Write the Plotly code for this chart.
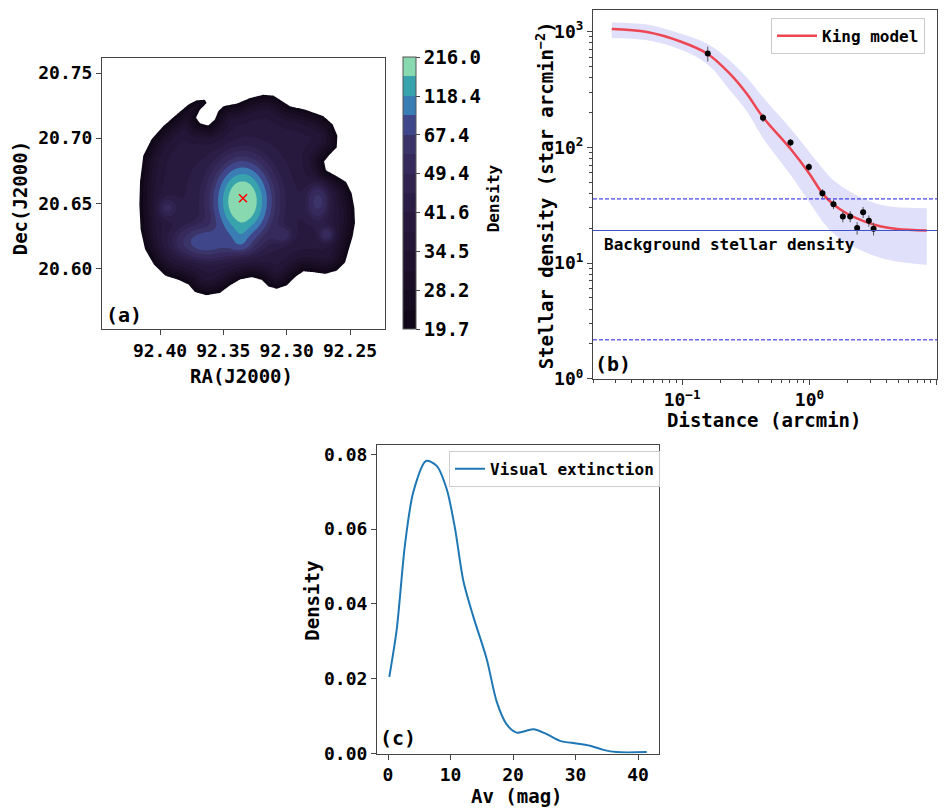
import numpy as np
import plotly.graph_objects as go

W, H = 951, 808
FONT = "DejaVu Sans Mono"

# ---------------- Panel (a): stellar density map ----------------
footprint_ra = [92.4158, 92.4132, 92.4066, 92.3974, 92.3868, 92.3776, 92.3711, 92.3645, 92.3632, 92.3684,
                92.3716, 92.3684, 92.3618, 92.3566, 92.3540, 92.3500, 92.3395, 92.3290, 92.3184, 92.3105,
                92.3053, 92.2974, 92.2842, 92.2711, 92.2637, 92.2600, 92.2605, 92.2663, 92.2705, 92.2690,
                92.2605, 92.2532, 92.2487, 92.2466, 92.2461, 92.2479, 92.2513, 92.2539, 92.2605, 92.2697,
                92.2790, 92.2868, 92.2934, 92.3000, 92.3079, 92.3145, 92.3197, 92.3276, 92.3368, 92.3447,
                92.3526, 92.3632, 92.3724, 92.3776, 92.3855, 92.3960, 92.4047, 92.4118, 92.4153, 92.4163]
footprint_dec = [20.6664, 20.6866, 20.6992, 20.7093, 20.7182, 20.7258, 20.7290, 20.7295, 20.7270, 20.7220,
                 20.7157, 20.7114, 20.7098, 20.7144, 20.7207, 20.7245, 20.7265, 20.7308, 20.7333, 20.7326,
                 20.7295, 20.7245, 20.7215, 20.7169, 20.7106, 20.7018, 20.6929, 20.6871, 20.6821, 20.6753,
                 20.6707, 20.6664, 20.6576, 20.6462, 20.6348, 20.6247, 20.6134, 20.6045, 20.5982, 20.5957,
                 20.5970, 20.5977, 20.5932, 20.5869, 20.5843, 20.5861, 20.5912, 20.5932, 20.5914, 20.5869,
                 20.5811, 20.5793, 20.5818, 20.5876, 20.5912, 20.5944, 20.6028, 20.6146, 20.6298, 20.6487]

blob_ra = [92.3349, 92.3361, 92.3368, 92.3645, 92.3349, 92.2753, 92.2682, 92.3037, 92.3945]
blob_dec = [20.6515, 20.6265, 20.6174, 20.6201, 20.6515, 20.6515, 20.6258, 20.6258, 20.6462]
blob_amp = [186.0, 22.0, 15.0, 37.0, 12.0, 22.0, 17.0, 14.0, 12.0]
blob_sig_ra = [0.0110, 0.0040, 0.0070, 0.0140, 0.0240, 0.0055, 0.0040, 0.0050, 0.0055]
blob_sig_dec = [0.0150, 0.0060, 0.0040, 0.0076, 0.0250, 0.0090, 0.0040, 0.0040, 0.0055]
edge_rise = 20.0
edge_scale = 0.012

density_levels = [19.7, 24.0, 28.2, 31.3, 34.5, 38.0, 41.6, 45.4, 49.4, 57.5, 67.4, 88.0, 118.4, 160.0, 216.0]
cbar_labels = ["19.7", "28.2", "34.5", "41.6", "49.4", "67.4", "118.4", "216.0"]
band_colors = ["#100818", "#150c20", "#1a0f27", "#1e122e", "#221536", "#27193e", "#2b1e46",
               "#30234f", "#362a5c", "#3b3469", "#40468a", "#3a7db4", "#38a3ac", "#88d8b0"]
center_ra = [92.3345]
center_dec = [20.6538]

ra_ticks = [92.40, 92.35, 92.30, 92.25]
dec_ticks = [20.60, 20.65, 20.70, 20.75]

# ---------------- Panel (b): radial density profile ----------------
prof_r = [0.159, 0.432, 0.71, 0.99, 1.265, 1.545, 1.83, 2.09, 2.37, 2.64, 2.93, 3.19]
prof_f = [646, 180, 110, 67.6, 40.0, 32.2, 25.3, 25.3, 20.1, 27.5, 23.2, 19.8]
prof_err = [95, 15, 8, 5, 3.5, 3.0, 2.8, 2.8, 2.5, 3.0, 2.6, 2.5]

king_r = [0.028, 0.053, 0.097, 0.159, 0.238, 0.322, 0.432, 0.71, 0.99, 1.265, 1.545, 1.97, 2.66, 3.59, 4.86, 8.36]
king_f = [1050, 990, 820, 640, 430, 290, 182, 97, 60, 40, 32, 26.8, 23.0, 20.8, 19.7, 19.1]
king_hi = [1200, 1150, 960, 780, 560, 400, 270, 145, 92, 66, 52, 43, 36, 32, 30.3, 29.8]
king_lo = [880, 840, 700, 520, 310, 205, 120, 58, 34, 23, 18, 14.8, 12.6, 11.1, 10.3, 9.6]

bg_density = 19.1
bg_upper = 35.8
bg_lower = 2.17

# ---------------- Panel (c): Av distribution ----------------
av_x = [0.21, 1.39, 2.72, 4.05, 6.08, 7.79, 9.39, 10.72, 12.05, 13.65, 15.79, 17.39, 18.99,
        20.59, 23.25, 25.39, 27.52, 30.19, 32.32, 34.45, 36.59, 41.39]
av_y = [0.0205, 0.0331, 0.0559, 0.0699, 0.0782, 0.0769, 0.0707, 0.0602, 0.0462, 0.0366, 0.0253,
        0.0139, 0.0078, 0.0056, 0.0065, 0.0052, 0.0034, 0.0027, 0.0021, 0.0010, 0.0004, 0.0004]

# ---------------- build density field for (a) ----------------
ra_g = np.linspace(92.222, 92.446, 280)
dec_g = np.linspace(20.553, 20.762, 270)
RA, DEC = np.meshgrid(ra_g, dec_g)
cosd = np.cos(np.deg2rad(20.65))
P0 = (RA * cosd).ravel()
P1 = DEC.ravel()
vx = np.array(footprint_ra) * cosd
vy = np.array(footprint_dec)
bx = np.roll(vx, -1)
by = np.roll(vy, -1)
dmin = np.full(P0.shape, np.inf)
inside = np.zeros(P0.shape, bool)
for i in range(len(vx)):
    ex, ey = bx[i] - vx[i], by[i] - vy[i]
    wx, wy = P0 - vx[i], P1 - vy[i]
    t = np.clip((wx * ex + wy * ey) / (ex * ex + ey * ey), 0, 1)
    dmin = np.minimum(dmin, np.hypot(wx - t * ex, wy - t * ey))
    cond = (vy[i] > P1) != (by[i] > P1)
    xint = vx[i] + (P1 - vy[i]) * ex / (ey if ey != 0 else 1e-12)
    inside ^= cond & (P0 < xint)
sd = np.where(inside, dmin, -dmin).reshape(RA.shape)

z = density_levels[0] + edge_rise * np.tanh(sd / edge_scale)
mask = np.clip(sd / 0.006, 0, 1)
blobs = np.zeros_like(z)
for a, b, amp, sa, sb in zip(blob_ra, blob_dec, blob_amp, blob_sig_ra, blob_sig_dec):
    blobs += amp * np.exp(-0.5 * ((RA - a) / sa) ** 2 - 0.5 * ((DEC - b) / sb) ** 2)
z = z + mask * blobs

lv = np.array(density_levels)
nb = len(lv) - 1
zi = np.interp(z, lv, np.arange(len(lv)))
below = z < lv[0]
zi[below] = (z[below] - lv[0]) / (lv[1] - lv[0])

contour_scale = [[0.0, "#ffffff"]] + [[(k + 1) / nb, band_colors[k]] for k in range(nb)]
cb_scale = []
for k in range(nb):
    cb_scale.append([k / nb, band_colors[k]])
    cb_scale.append([(k + 1) / nb, band_colors[k]])

tickfont = dict(family=FONT, size=18, color="black", weight="bold")
axline = dict(showline=True, mirror=True, linecolor="#444", linewidth=1, ticks="outside",
              ticklen=5, tickwidth=1, tickcolor="#444", showgrid=False, zeroline=False,
              tickfont=tickfont)

fig = go.Figure()

fig.add_trace(go.Contour(
    x=ra_g, y=dec_g, z=zi, autocontour=False,
    contours=dict(start=0, end=nb - 1, size=1, coloring="fill", showlines=False),
    colorscale=contour_scale, showscale=False, line=dict(width=0),
    hoverinfo="skip", xaxis="x", yaxis="y"))

fig.add_trace(go.Scatter(
    x=[None], y=[None], mode="markers", showlegend=False, hoverinfo="skip",
    marker=dict(color=[0], colorscale=cb_scale, cmin=0, cmax=nb, showscale=True,
                colorbar=dict(x=403 / W, xanchor="left", y=1 - 57 / H, yanchor="top",
                              len=276 / H, lenmode="fraction", thickness=13, thicknessmode="pixels",
                              xpad=0, ypad=0, outlinewidth=1, outlinecolor="#555",
                              tickmode="array", tickvals=list(range(0, nb + 1, 2)), ticktext=cbar_labels,
                              ticks="outside", ticklen=4, tickcolor="#444",
                              tickfont=dict(family=FONT, size=19, color="black", weight="bold"))),
    xaxis="x", yaxis="y"))

fig.add_trace(go.Scatter(
    x=center_ra, y=center_dec, mode="markers", showlegend=False,
    marker=dict(symbol="x-thin", size=8, line=dict(color="red", width=1.5)),
    xaxis="x", yaxis="y"))

# ---- panel (b) ----
fig.add_trace(go.Scatter(x=king_r, y=king_hi, mode="lines", line=dict(width=0, shape="spline"),
                         showlegend=False, hoverinfo="skip", xaxis="x2", yaxis="y2"))
fig.add_trace(go.Scatter(x=king_r, y=king_lo, mode="lines", line=dict(width=0, shape="spline"),
                         fill="tonexty", fillcolor="rgba(70,70,230,0.17)",
                         showlegend=False, hoverinfo="skip", xaxis="x2", yaxis="y2"))
fig.add_trace(go.Scatter(x=king_r, y=king_f, mode="lines", name="King model",
                         line=dict(color="#ec4653", width=2.5, shape="spline"),
                         legend="legend", xaxis="x2", yaxis="y2"))
fig.add_trace(go.Scatter(x=prof_r, y=prof_f, mode="markers", showlegend=False,
                         marker=dict(color="black", size=6),
                         error_y=dict(type="data", array=prof_err, color="#555", thickness=1, width=0),
                         xaxis="x2", yaxis="y2"))

# ---- panel (c) ----
fig.add_trace(go.Scatter(x=av_x, y=av_y, mode="lines", name="Visual extinction",
                         line=dict(color="#1f77b4", width=2, shape="spline", smoothing=0.8),
                         legend="legend2", xaxis="x3", yaxis="y3"))

shapes = [
    dict(type="line", xref="x2 domain", yref="y2", x0=0, x1=1, y0=bg_density, y1=bg_density,
         line=dict(color="#3f51c8", width=1.2)),
    dict(type="line", xref="x2 domain", yref="y2", x0=0, x1=1, y0=bg_upper, y1=bg_upper,
         line=dict(color="#1a1ae0", width=1, dash="4px,2px")),
    dict(type="line", xref="x2 domain", yref="y2", x0=0, x1=1, y0=bg_lower, y1=bg_lower,
         line=dict(color="#1a1ae0", width=1, dash="4px,2px")),
]

minor_log = [m * 10.0 ** e for e in range(-2, 3) for m in range(2, 10)]


def ann(text, px, py, size=19, angle=0, xanchor="center"):
    return dict(text=text, x=px / W, y=1 - py / H, xref="paper", yref="paper", showarrow=False,
                textangle=angle, xanchor=xanchor, yanchor="middle",
                font=dict(family=FONT, size=size, color="black", weight="bold"))


annotations = [
    ann("RA(J2000)", 241.5, 380),
    ann("Dec(J2000)", 20, 200, angle=-90),
    ann("Density", 493, 200, size=16, angle=-90),
    ann("(a)", 123.5, 318, size=20),
    ann("Distance (arcmin)", 764, 425),
    ann("Stellar density (star arcmin<sup>\u22122</sup>)", 545, 197, angle=-90),
    ann("(b)", 613, 368, size=20),
    ann("Background stellar density", 602, 247, size=16, xanchor="left"),
    ann("Av (mag)", 517, 806),
    ann("Density", 312, 608, angle=-90),
    ann("(c)", 397.5, 747, size=20),
]

legend_common = dict(bgcolor="white", bordercolor="#cccccc", borderwidth=1, xanchor="left", yanchor="top",
                     font=dict(family=FONT, size=16, color="black", weight="bold"))

fig.update_layout(
    width=W, height=H, margin=dict(l=0, r=0, t=0, b=0),
    paper_bgcolor="white", plot_bgcolor="white", showlegend=True,
    xaxis=dict(domain=[102 / W, 385 / W], range=[92.4458, 92.2224], tickmode="array",
               tickvals=ra_ticks, tickformat=".2f", anchor="y", **axline),
    yaxis=dict(domain=[1 - 333 / H, 1 - 58 / H], range=[20.553, 20.7614], tickmode="array",
               tickvals=dec_ticks, tickformat=".2f", anchor="x", **axline),
    xaxis2=dict(domain=[593 / W, 937 / W], type="log", range=[-1.70, 1.002], anchor="y2",
                tickmode="array", tickvals=[0.1, 1, 10],
                ticktext=["10<sup>\u22121</sup>", "10<sup>0</sup>", "10<sup>1</sup>"],
                minor=dict(tickmode="array", tickvals=minor_log, ticks="outside", ticklen=3,
                           tickcolor="#444", showgrid=False),
                **axline),
    yaxis2=dict(domain=[1 - 383 / H, 1 - 9.5 / H], type="log", range=[0, 3.183], anchor="x2",
                tickmode="array", tickvals=[1, 10, 100, 1000],
                ticktext=["10<sup>0</sup>", "10<sup>1</sup>", "10<sup>2</sup>", "10<sup>3</sup>"],
                minor=dict(tickmode="array", tickvals=minor_log, ticks="outside", ticklen=3,
                           tickcolor="#444", showgrid=False),
                **axline),
    xaxis3=dict(domain=[377 / W, 659 / W], range=[-1.76, 43.36], anchor="y3", tickmode="array",
                tickvals=[0, 10, 20, 30, 40], **axline),
    yaxis3=dict(domain=[1 - 763 / H, 1 - 450 / H], range=[0, 0.0825], anchor="x3", tickmode="array",
                tickvals=[0, 0.02, 0.04, 0.06, 0.08], tickformat=".2f", **axline),
    legend=dict(x=771 / W, y=1 - 17 / H, itemwidth=40, **legend_common),
    legend2=dict(x=449 / W, y=1 - 456 / H, **legend_common),
    shapes=shapes,
    annotations=annotations,
)

fig.write_html("out.html")
